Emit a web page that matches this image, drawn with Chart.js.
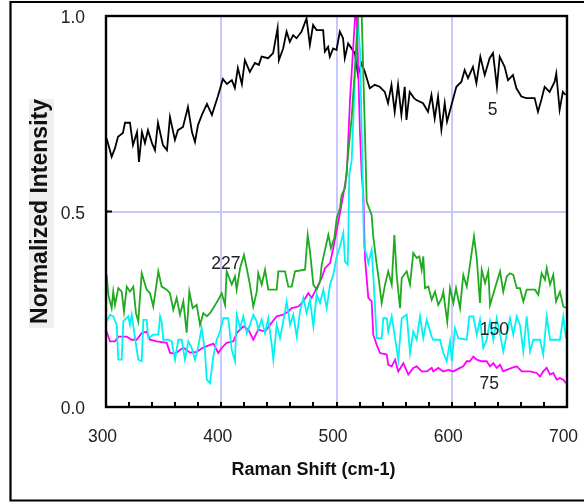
<!DOCTYPE html>
<html><head><meta charset="utf-8">
<script src="https://cdn.jsdelivr.net/npm/chart.js@4.4.0/dist/chart.umd.min.js"></script>
<style>html,body{margin:0;padding:0;background:#fff;}canvas{display:block;}</style>
</head><body>
<canvas id="c" width="584" height="504"></canvas>
<script>
// ---- tick labels ----
const xTickValues = [300, 400, 500, 600, 700];
const yTickValues = [0, 0.5, 1.0];
const xTitle = 'Raman Shift (cm-1)';
const yTitle = 'Normalized Intensity';
const seriesNames = ['5', '227', '150', '75'];

// ---- series "5" (black) ----
const xs5 = [300.6,304.9,307.8,310.4,314.7,316.5,320.8,323.4,326.9,328.6,331.2,333.8,336.4,339.9,342.5,345.1,349.4,352.9,355.5,359.8,362.4,366.8,371.1,374.6,377.2,379.8,383.2,387.6,391.9,394.5,397.1,401.4,404.9,409.2,411.8,414.4,417.9,420.5,424.8,429.2,432.6,
435.0,440.7,445.0,448.9,450.0,453.7,456.7,459.5,462.4,465.3,469.7,474.0,476.9,479.7,482.7,488.4,489.9,492.7,494.2,497.1,500.0,502.9,505.7,507.2,510.1,515.9,518.7,521.7,524.5,528.9,533.2,537.5,541.9,544.7,547.7,550.5,553.4,556.3,559.2,560.7,563.5,567.3,
569.3,575.1,579.4,582.4,585.2,588.1,591.0,593.9,595.9,599.7,604.0,608.4,611.2,614.1,618.4,621.4,624.8,628.6,632.9,635.8,639.2,641.6,645.9,648.8,653.1,656.1,660.4,664.7,671.9,674.8,677.7,680.6,684.9,689.3,690.7,693.6,696.4,698.8];
const ys5 = [.687,.640,.662,.691,.701,.727,.727,.670,.703,.627,.703,.675,.708,.675,.657,.727,.670,.657,.742,.683,.708,.716,.767,.703,.678,.721,.747,.775,.747,.771,.795,.839,.826,.836,.816,.867,.826,.887,.857,.880,.875,
.896,.892,.905,.969,.887,.917,.960,.934,.951,.943,.960,.994,.926,.977,.964,.964,.909,.921,.896,.917,.913,.960,.943,.892,.930,.905,.849,.879,.858,.815,.824,.819,.806,.777,.824,.755,.824,.747,.819,.734,.806,.790,
.785,.777,.755,.798,.738,.794,.709,.777,.730,.772,.819,.832,.862,.841,.870,.828,.896,.849,.892,.905,.819,.896,.870,.836,.849,.815,.794,.790,.790,.755,.785,.819,.806,.832,.853,.760,.806,.798];

// ---- series "227" (green) ----
const xs227 = [300.6,302.0,304.9,306.3,307.8,310.7,313.6,315.6,318.0,320.8,323.7,326.0,328.0,331.0,335.3,338.2,341.0,345.4,348.3,352.7,
355.5,358.4,361.3,364.2,367.1,370.0,372.3,375.2,378.7,381.6,384.4,387.4,390.2,393.1,397.4,400.4,403.3,404.7,409.1,411.9,
413.4,416.3,419.7,422.1,424.9,427.8,430.8,432.1,435.1,438.0,440.8,448.1,449.5,455.3,458.2,461.1,464.0,472.7,475.0,477.0,
479.9,482.8,485.7,487.2,490.0,492.9,495.2,498.1,500.2,503.0,504.5,507.4,510.2,513.2,516.1,518.9,521.9,524.7,526.2,530.5,
531.9,534.9,536.9,539.2,542.1,544.9,547.9,550.2,552.2,555.1,556.6,560.9,563.8,566.6,569.6,571.8,573.9,575.3,576.8,579.7,
582.6,585.5,588.3,591.3,592.7,594.1,596.1,598.5,601.4,603.7,607.2,610.0,613.0,615.8,619.3,621.7,624.5,626.0,628.9,631.7,
633.2,637.5,641.9,644.7,647.7,650.5,653.4,656.4,659.2,662.1,665.0,667.9,672.2,675.1,678.0,680.9,682.4,685.3,688.1,690.5,
693.9,696.8,699.1];
const ys227 = [.338,.287,.253,.295,.261,.304,.295,.244,.308,.295,.308,.240,.219,.342,.300,.291,.257,.347,.308,.300,
.291,.249,.279,.236,.270,.190,.295,.253,.261,.210,.240,.232,.240,.253,.274,.291,.261,.347,.313,.334,
.300,.355,.389,.355,.313,.257,.295,.342,.313,.351,.300,.300,.347,.347,.308,.308,.347,.351,.440,.398,
.313,.300,.321,.364,.402,.440,.406,.432,.483,.509,.543,.560,.650,.742,.870,1.0,1.0,.701,.525,.491,
.436,.364,.321,.266,.313,.347,.313,.440,.338,.253,.330,.347,.313,.394,.381,.385,.351,.385,.304,.308,
.274,.295,.261,.279,.295,.261,.218,.304,.266,.304,.253,.338,.308,.364,.436,.381,.266,.351,.317,.347,
.261,.304,.347,.295,.334,.342,.338,.304,.304,.270,.300,.300,.300,.287,.342,.325,.355,.313,.338,.270,
.295,.257,.253];

// ---- series "150" (cyan) ----
const xs150 = [300.6,303.5,306.3,309.3,310.7,313.6,315.0,319.3,320.8,322.3,325.2,328.0,331.0,332.4,335.3,336.7,341.0,345.4,346.9,348.3,
349.7,354.1,357.0,359.9,362.7,365.7,368.5,371.4,374.4,377.2,380.1,383.0,385.9,387.4,390.2,393.1,396.1,398.9,401.8,406.1,
409.1,411.9,413.4,416.3,419.1,422.1,424.9,427.8,430.8,432.1,435.1,438.0,440.8,443.8,445.2,448.1,451.0,453.8,456.8,459.7,
462.5,465.5,468.3,471.2,474.1,477.0,479.9,482.8,485.7,488.6,491.5,494.4,497.2,500.2,503.0,505.9,507.4,509.7,510.2,511.1,
513.2,517.5,518.9,520.4,521.9,523.9,526.2,527.6,530.5,531.9,534.9,539.2,540.6,543.6,544.9,547.9,550.8,553.6,556.6,560.9,
563.8,566.6,569.6,572.5,575.3,578.3,582.6,584.0,589.8,592.7,595.6,598.5,600.0,602.8,605.7,613.0,615.2,618.7,621.7,624.5,
627.4,630.3,633.2,636.1,639.0,641.9,644.7,647.7,650.5,653.4,656.4,659.2,662.1,665.0,667.9,670.8,676.6,679.4,682.4,685.3,
693.9,696.8,699.1];
const ys150 = [.219,.236,.232,.210,.121,.121,.219,.232,.210,.236,.176,.121,.117,.223,.223,.176,.185,.185,.232,.219,
.172,.172,.168,.121,.172,.172,.121,.168,.151,.121,.155,.202,.142,.070,.061,.129,.172,.193,.227,.227,
.146,.117,.236,.202,.232,.189,.210,.236,.219,.198,.223,.189,.227,.159,.121,.210,.176,.219,.270,.210,
.236,.180,.244,.279,.240,.274,.206,.287,.266,.300,.253,.313,.338,.385,.410,.445,.372,.364,.423,.594,
.632,.957,.972,.913,.701,.410,.389,.368,.402,.338,.176,.176,.227,.227,.193,.232,.176,.121,.227,.236,
.138,.193,.172,.232,.176,.223,.180,.172,.172,.138,.117,.168,.117,.202,.176,.172,.232,.232,.185,.223,
.151,.172,.219,.172,.227,.185,.142,.185,.227,.185,.232,.210,.142,.232,.142,.172,.172,.134,.232,.172,
.172,.232,.176];

// ---- series "75" (magenta) ----
const xs75 = [300.6,303.5,307.8,310.7,318.0,322.3,326.6,331.0,335.3,338.2,344.0,352.7,355.5,359.9,367.1,372.9,378.7,384.4,393.1,397.4,
400.4,404.7,410.5,413.4,419.1,423.5,427.8,432.1,438.0,442.3,448.1,453.8,458.2,461.1,466.9,471.2,475.5,478.5,482.8,487.2,
490.0,494.4,497.2,500.2,503.0,505.9,508.9,511.7,516.1,517.5,520.4,521.9,523.3,524.7,527.6,530.5,531.9,534.9,537.7,543.6,
544.9,547.9,550.8,553.6,558.0,562.3,566.6,569.6,573.9,578.3,582.6,584.0,588.3,592.7,597.0,601.4,607.2,610.0,613.0,615.8,
618.7,621.7,626.0,630.3,633.2,636.1,639.0,641.9,644.7,647.7,652.0,656.4,660.7,667.9,673.7,676.6,679.4,682.4,685.3,688.1,
691.1,693.9,696.8,699.1];
const ys75 = [.193,.168,.168,.180,.180,.172,.172,.189,.193,.172,.168,.164,.139,.136,.152,.139,.141,.152,.162,.138,
.151,.164,.168,.189,.206,.198,.172,.198,.193,.210,.232,.236,.244,.253,.257,.270,.291,.279,.304,.330,
.355,.368,.406,.453,.496,.543,.594,.785,.997,1.0,.700,.594,.543,.381,.279,.270,.185,.159,.138,.134,
.108,.104,.121,.091,.112,.083,.100,.104,.091,.091,.100,.091,.100,.091,.095,.091,.100,.104,.117,.117,
.129,.121,.117,.117,.104,.112,.100,.108,.091,.095,.100,.104,.091,.091,.087,.078,.091,.100,.083,.087,
.070,.074,.070,.061];

const FONT = "'Liberation Sans', Arial, Helvetica, sans-serif";
Chart.defaults.font.family = FONT;

function pts(xs, ys) { return xs.map((x, i) => ({ x: x, y: ys[i] })); }

// annotation placement (data coordinates)
const labelSpots = [
  { name: seriesNames[0], x: 635.5, y: 0.76 },
  { name: seriesNames[1], x: 404, y: 0.366 },
  { name: seriesNames[2], x: 637, y: 0.197 },
  { name: seriesNames[3], x: 632.5, y: 0.059 }
];

const decor = {
  id: 'decor',
  beforeDraw(chart) {
    const ctx = chart.ctx;
    ctx.save();
    ctx.fillStyle = '#efefef';
    ctx.fillRect(29, 99, 25, 229);
    ctx.restore();
  },
  afterDatasetsDraw(chart) {
    const ctx = chart.ctx, sx = chart.scales.x, sy = chart.scales.y;
    ctx.save();
    ctx.fillStyle = '#222';
    ctx.font = '17.5px ' + FONT;
    ctx.textAlign = 'center';
    ctx.textBaseline = 'middle';
    labelSpots.forEach(l => ctx.fillText(l.name, sx.getPixelForValue(l.x), sy.getPixelForValue(l.y)));
    ctx.restore();
  },
  afterDraw(chart) {
    const ctx = chart.ctx, a = chart.chartArea, sx = chart.scales.x, sy = chart.scales.y;
    ctx.save();
    ctx.strokeStyle = '#000';
    // plot frame
    ctx.lineWidth = 2.4;
    ctx.strokeRect(a.left, a.top, a.right - a.left, a.bottom - a.top);
    // inside ticks on x axis every 20
    ctx.lineWidth = 2;
    ctx.beginPath();
    for (let v = sx.min; v <= sx.max + 0.01; v += 20) {
      const p = Math.round(sx.getPixelForValue(v));
      ctx.moveTo(p, a.bottom); ctx.lineTo(p, a.bottom - 5);
    }
    yTickValues.forEach(v => {
      const p = sy.getPixelForValue(v);
      ctx.moveTo(a.left, p); ctx.lineTo(a.left + 6, p);
    });
    ctx.stroke();
    // outer frame (left, top, bottom)
    ctx.lineWidth = 2.2;
    ctx.beginPath();
    ctx.moveTo(590, 2); ctx.lineTo(10.5, 2); ctx.lineTo(10.5, 500.5); ctx.lineTo(590, 500.5);
    ctx.stroke();
    // x axis title
    ctx.fillStyle = '#111';
    ctx.font = 'bold 18px ' + FONT;
    ctx.textAlign = 'center';
    ctx.textBaseline = 'middle';
    ctx.fillText(xTitle, (a.left + a.right) / 2 - 23, a.bottom + 63.5);
    ctx.restore();
  }
};

new Chart(document.getElementById('c'), {
  type: 'scatter',
  data: {
    datasets: [
      { label: seriesNames[1], data: pts(xs227, ys227), borderColor: '#1faa1f' },
      { label: seriesNames[2], data: pts(xs150, ys150), borderColor: '#00f2f2' },
      { label: seriesNames[3], data: pts(xs75, ys75), borderColor: '#ff00ff' },
      { label: seriesNames[0], data: pts(xs5, ys5), borderColor: '#000000' }
    ].map(d => Object.assign(d, { showLine: true, pointRadius: 0, borderWidth: 1.8, tension: 0, fill: false }))
  },
  options: {
    responsive: false,
    animation: false,
    devicePixelRatio: 1,
    events: [],
    layout: { padding: { top: 16, right: 17, left: 0, bottom: 0 } },
    plugins: { legend: { display: false }, tooltip: { enabled: false } },
    scales: {
      x: {
        type: 'linear', min: 300, max: 700,
        afterBuildTicks: s => { s.ticks = xTickValues.map(v => ({ value: v })); },
        afterFit: s => { s.height = 97; s.paddingLeft = 0; s.paddingRight = 0; },
        grid: { color: '#c8c8ff', lineWidth: 2, drawTicks: false },
        border: { display: false },
        ticks: { padding: 20, labelOffset: -3.5, color: '#222', font: { size: 17.5 }, maxRotation: 0, autoSkip: false, callback: v => String(v) }
      },
      y: {
        type: 'linear', min: 0, max: 1,
        afterBuildTicks: s => { s.ticks = yTickValues.map(v => ({ value: v })); },
        afterFit: s => { s.width = 106; s.paddingTop = 0; s.paddingBottom = 0; },
        grid: { color: '#c8c8ff', lineWidth: 2, drawTicks: false },
        border: { display: false },
        ticks: { padding: 21, labelOffset: 2.5, color: '#222', font: { size: 17.5 }, callback: v => Number(v).toFixed(1) },
        title: { display: true, text: yTitle, color: '#111', font: { size: 23, weight: 'bold', lineHeight: 1 }, padding: { top: 29, bottom: 0 } }
      }
    }
  },
  plugins: [decor]
});
</script>
</body></html>
